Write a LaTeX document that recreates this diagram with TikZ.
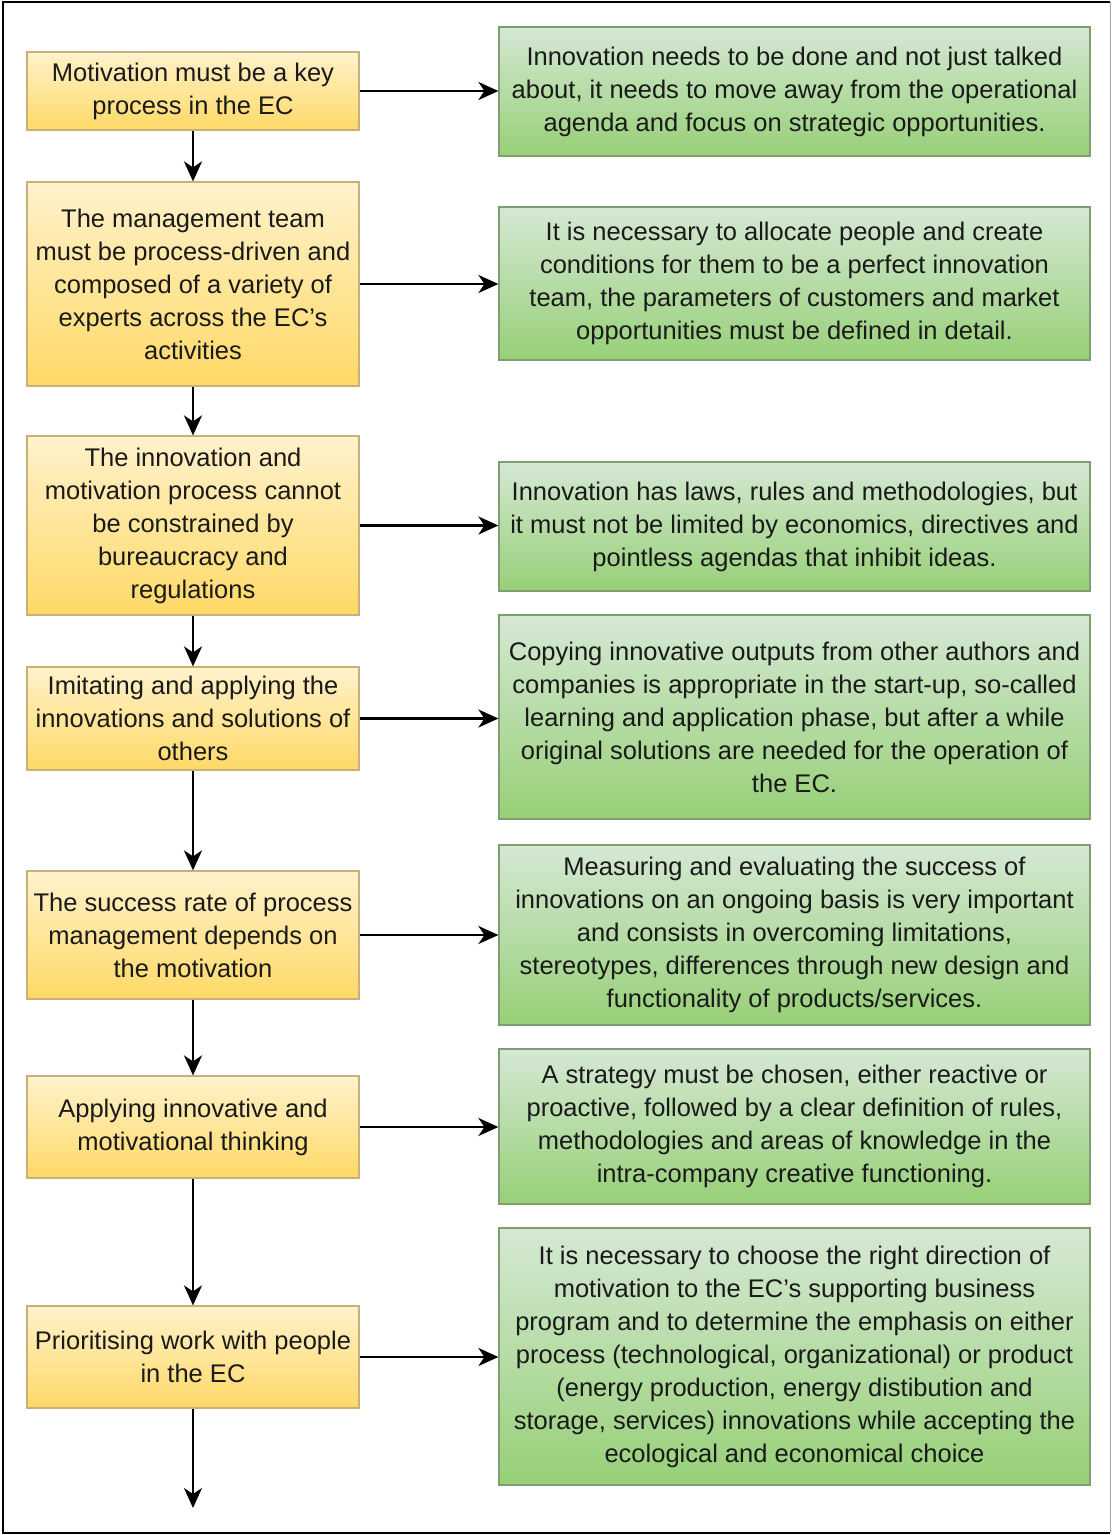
\documentclass[tikz,border=0pt]{standalone}
\usepackage{fontspec}
\setmainfont{Liberation Sans}[Ligatures=ResetAll]
\usetikzlibrary{arrows.meta}

\definecolor{yfillTop}{HTML}{FFF2CC}
\definecolor{yfillBot}{HTML}{FFD966}
\definecolor{ystroke}{HTML}{C9B07A}
\definecolor{gfillTop}{HTML}{D5E8D4}
\definecolor{gfillBot}{HTML}{97D077}
\definecolor{gstroke}{HTML}{7F9E72}
\definecolor{txt}{HTML}{1A1A1A}

\tikzset{
  boxtext/.style={font=\fontsize{25.5}{33}\selectfont, text=txt, align=center, inner sep=0pt},
  ybox/.style={boxtext, draw=ystroke, line width=1.2pt, top color=yfillTop, bottom color=yfillBot,
    minimum width=332pt},
  gbox/.style={boxtext, draw=gstroke, line width=1.2pt, top color=gfillTop, bottom color=gfillBot,
    minimum width=591pt},
  arr/.style={line width=2.4pt, draw=black, -{Stealth[length=20pt,width=18pt,inset=6pt]}}
}

\begin{document}
\begin{tikzpicture}[x=1pt,y=-1pt]
  \useasboundingbox (0,0) rectangle (1113,1535);
  \fill[white] (0,0) rectangle (1113,1535);

  % outer frame
  \draw[line width=2.2pt, black] (1110,2) -- (3,2) -- (3,1533) -- (1110,1533);
  \draw[line width=1pt, black!35] (1110,2) -- (1110,1533);

  % left column: process steps
  \node[ybox, minimum height=78pt]  (y1) at (193,91)    {Motivation must be a key\\process in the EC};
  \node[ybox, minimum height=204pt] (y2) at (193,284)   {The management team\\must be process-driven and\\composed of a variety of\\experts across the EC's\\activities};
  \node[ybox, minimum height=179pt] (y3) at (193,525.5) {The innovation and\\motivation process cannot\\be constrained by\\bureaucracy and\\regulations};
  \node[ybox, minimum height=103pt] (y4) at (193,718.5) {Imitating and applying the\\innovations and solutions of\\others};
  \node[ybox, minimum height=128pt] (y5) at (193,935)   {The success rate of process\\management depends on\\the motivation};
  \node[ybox, minimum height=102pt] (y6) at (193,1127)  {Applying innovative and\\motivational thinking};
  \node[ybox, minimum height=102pt] (y7) at (193,1357)  {Prioritising work with people\\in the EC};
  \coordinate (yend) at (193,1508);

  % right column: explanations
  \node[gbox, minimum height=129pt] (g1) at (794.5,91.5)  {Innovation needs to be done and not just talked\\about, it needs to move away from the operational\\agenda and focus on strategic opportunities.};
  \node[gbox, minimum height=153pt] (g2) at (794.5,283.5) {It is necessary to allocate people and create\\conditions for them to be a perfect innovation\\team, the parameters of customers and market\\opportunities must be defined in detail.};
  \node[gbox, minimum height=129pt] (g3) at (794.5,526.5) {Innovation has laws, rules and methodologies, but\\it must not be limited by economics, directives and\\pointless agendas that inhibit ideas.};
  \node[gbox, minimum height=204pt] (g4) at (794.5,717)   {Copying innovative outputs from other authors and\\companies is appropriate in the start-up, so-called\\learning and application phase, but after a while\\original solutions are needed for the operation of\\the EC.};
  \node[gbox, minimum height=180pt] (g5) at (794.5,935)   {Measuring and evaluating the success of\\innovations on an ongoing basis is very important\\and consists in overcoming limitations,\\stereotypes, differences through new design and\\functionality of products/services.};
  \node[gbox, minimum height=155pt] (g6) at (794.5,1126.5){A strategy must be chosen, either reactive or\\proactive, followed by a clear definition of rules,\\methodologies and areas of knowledge in the\\intra-company creative functioning.};
  \node[gbox, minimum height=257pt] (g7) at (794.5,1356.5){It is necessary to choose the right direction of\\motivation to the EC's supporting business\\program and to determine the emphasis on either\\process (technological, organizational) or product\\(energy production, energy distibution and\\storage, services) innovations while accepting the\\ecological and economical choice};

  % vertical flow
  \draw[arr] (y1.south) -- (y2.north);
  \draw[arr] (y2.south) -- (y3.north);
  \draw[arr] (y3.south) -- (y4.north);
  \draw[arr] (y4.south) -- (y5.north);
  \draw[arr] (y5.south) -- (y6.north);
  \draw[arr] (y6.south) -- (y7.north);
  \draw[arr] (y7.south) -- (yend);

  % horizontal links
  \foreach \i in {1,...,7}
    \draw[arr] (y\i.east) -- (y\i.east -| g\i.west);
\end{tikzpicture}
\end{document}
